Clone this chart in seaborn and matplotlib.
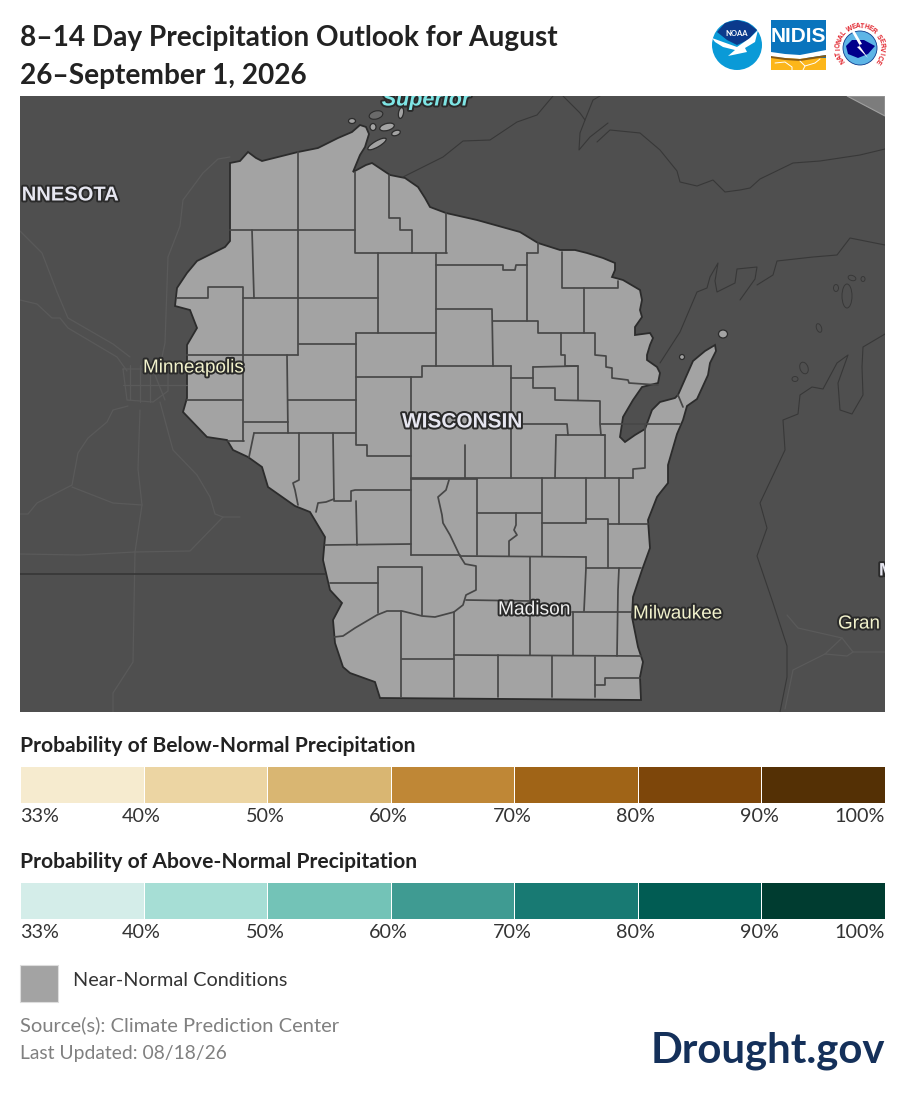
import numpy as np
import pandas as pd
import matplotlib
matplotlib.use("Agg")
import matplotlib.pyplot as plt
import matplotlib.patheffects as pe
from matplotlib.colors import ListedColormap
from matplotlib.patches import Circle, Ellipse, Polygon, Rectangle
import seaborn as sns

W, H = 905, 1104
sns.set_theme(style="white")
plt.rcParams["font.family"] = ["Lato", "DejaVu Sans"]

title_lines = ["8\u201314 Day Precipitation Outlook for August", "26\u2013September 1, 2026"]
bin_labels = ["33%", "40%", "50%", "60%", "70%", "80%", "90%", "100%"]
below_colors = ["#f6ebcf", "#ecd5a3", "#d9b672", "#bf8736", "#a06417", "#7d460a", "#543005"]
above_colors = ["#d4ede9", "#a6ded5", "#73c3b7", "#3f9b92", "#187a73", "#015c53", "#003c30"]

state_outline = [(230,163),(240,161),(248,152),(256,158),(262,161),(298,152),(318,148),(338,138),(352,132),(360,125),(366,127),(369,134),(365,147),(360,155),(353,172),(366,165),(372,163),(390,175),(405,178),(418,187),(425,198),(430,207),(446,213),(477,220),(520,232),(538,243),(560,250),(575,250),(587,253),(603,258),(615,263),(615,270),(612,277),(623,280),(640,290),(642,300),(640,310),(642,317),(635,327),(635,335),(650,333),(653,338),(650,345),(647,355),(647,360),(657,367),(660,373),(658,383),(642,387),(633,400),(623,417),(620,437),(625,442),(635,435),(645,429),(652,410),(660,402),(675,398),(678,395),(693,361),(705,351),(715,345),(716,351),(710,363),(708,375),(697,399),(687,406),(683,420),(677,434),(668,465),(668,483),(660,493),(657,497),(648,520),(650,548),(642,570),(633,597),(632,617),(638,647),(643,662),(640,677),(641,700),(380,698),(375,682),(350,673),(343,667),(335,643),(333,620),(342,603),(330,590),(323,560),(325,537),(310,512),(295,506),(268,487),(262,467),(248,457),(233,450),(227,440),(207,437),(183,412),(187,398),(187,345),(197,328),(190,310),(175,306),(177,288),(187,273),(197,261),(213,253),(225,247),(230,241)]

county_lines = [
 [(298,152),(298,355)], [(230,230),(355,230)], [(355,172),(355,253),(447,253)],
 [(389,175),(389,218),(400,218),(400,230),(412,230),(412,253)], [(446,213),(446,253)],
 [(252,230),(254,298)], [(177,298),(208,298),(208,287),(243,287),(243,441)], [(243,298),(378,298)],
 [(378,253),(378,333)], [(356,333),(436,333)], [(356,333),(356,445),(367,445),(367,456),(411,456)],
 [(299,344),(356,344)], [(187,355),(298,355)], [(287,355),(288,433)], [(187,400),(243,400)], [(288,400),(356,400)],
 [(436,253),(436,366),(422,366),(422,377),(356,377)], [(436,366),(511,366)], [(411,377),(411,555)],
 [(436,265),(503,265),(503,270),(515,270),(516,265),(527,265)], [(527,253),(538,253),(538,243)],
 [(527,253),(527,321)], [(436,309),(492,309),(493,366)], [(493,321),(538,321),(538,333),(561,333),(561,355),(565,355),(565,366),(578,366)],
 [(533,367),(578,366),(578,400)], [(533,367),(533,388),(555,388),(555,400),(600,401),(600,424),(601,435),(605,435),(605,478)],
 [(511,378),(533,378)], [(511,366),(511,478)], [(562,252),(562,288),(618,288),(618,281)], [(584,288),(584,333)],
 [(561,333),(595,333),(595,355),(606,356),(606,367),(612,368),(612,378),(628,380),(629,383),(658,385)],
 [(556,435),(605,435)], [(556,435),(555,478)], [(511,424),(567,424),(568,435)], [(601,424),(680,424)],
 [(645,424),(645,468),(633,469),(633,478)], [(411,478),(633,478)], [(465,445),(465,478)],
 [(678,395),(683,407)],
 [(244,422),(288,422)], [(228,441),(244,441)], [(254,433),(355,433)], [(254,433),(249,457)],
 [(299,433),(299,480),(293,483),(295,490),(298,505)], [(333,433),(334,501),(351,501),(351,491),(355,490),(411,490)],
 [(316,512),(318,503),(326,502),(334,499)], [(356,501),(357,545)], [(325,545),(411,544)],
 [(411,479),(477,479)], [(449,480),(446,490),(438,497),(442,515),(443,523),(450,535),(460,556),(465,564),(476,566),(476,590),(466,595),(463,605),(454,612),(435,617),(422,616),(402,611),(387,611),(377,615),(355,628),(343,636),(334,637)],
 [(330,583),(378,583)], [(378,567),(378,613)], [(378,567),(422,567),(422,615)], [(411,555),(460,555)],
 [(401,611),(401,697)], [(402,659),(454,659)], [(454,612),(454,697)],
 [(477,479),(477,555)], [(477,513),(541,513)], [(542,478),(542,556)], [(516,513),(516,525),(514,530),(517,535),(509,541),(509,556)],
 [(542,523),(586,523)], [(586,478),(586,523)], [(586,557),(586,568),(584,611)], [(586,519),(608,519),(608,568)], [(608,524),(648,524)], [(619,478),(619,524)],
 [(460,556),(586,557)], [(586,568),(641,568)], [(619,568),(618,590),(617,656)], [(530,557),(530,655)], [(466,600),(530,601)],
 [(572,612),(632,612)], [(573,612),(573,655)], [(454,655),(641,656)], [(498,655),(498,697)], [(552,656),(552,697)], [(595,657),(595,697)],
 [(595,685),(605,685),(605,678),(640,678)],
]

road_lines = [
 [(20,231),(42,253),(57,292),(68,318),(113,344),(130,357)],
 [(20,300),(37,304),(52,318),(60,318),(68,328),(117,357),(127,371)],
 [(230,157),(218,159),(203,173),(183,200),(180,226),(168,257),(165,343),(162,357),(143,371)],
 [(128,406),(113,410),(107,422),(88,438),(78,453),(72,485),(37,503),(28,514),(20,514)],
 [(72,487),(113,503),(142,505)],
 [(140,410),(138,469),(142,505),(135,552),(133,662),(113,693),(113,712)],
 [(20,554),(80,555),(135,552),(190,551),(223,517),(240,517)],
 [(160,402),(173,450),(197,475),(210,497),(215,514),(223,517)],
 [(123,369),(168,369),(168,391),(153,402),(127,400),(123,369)],
 [(130,365),(130,400)], [(140,365),(140,402)], [(150,369),(150,402)], [(123,385),(187,385)], [(155,375),(165,400)],
 [(787,615),(798,628),(842,638),(853,652),(885,652)],
 [(842,638),(825,654),(847,656),(853,652)],
 [(825,654),(793,670),(785,709)],
]

shore_lines = [
 [(403,177),(443,157),(463,141),(490,140),(517,122),(537,115),(553,96)],
 [(563,96),(580,113),(585,120),(580,133),(579,150),(590,137),(608,123)],
 [(585,120),(593,100),(600,96)],
 [(597,142),(610,130),(640,133),(660,150),(677,171),(680,182),(697,186),(713,180),(725,192),(740,190),(750,188),(760,179),(793,163),(820,161),(860,155),(885,149)],
 [(660,363),(680,332),(697,292),(707,288),(710,277),(718,263),(715,281),(717,292),(735,283),(737,269),(757,267),(755,279),(740,300)],
 [(757,285),(773,275),(777,261),(813,257),(837,255),(850,238),(885,245)],
 [(885,334),(863,347),(862,367),(863,395),(852,414),(840,410),(838,383),(848,355),(837,363),(823,389),(812,387),(800,395),(798,414),(783,420),(785,450),(760,503),(767,528),(757,556),(773,603),(787,646),(787,677),(780,712)],
]
state_border = [[(20,574),(325,574)]]

map_labels = [
 ("Superior", 426, 100, "center", 15.5, "bold", "italic", "#7fe6e6"),
 ("NNESOTA", 119, 195, "right", 14.5, "bold", "normal", "#e6e6f0"),
 ("Minneapolis", 143, 368, "left", 13.6, "normal", "normal", "#f2f2cc"),
 ("WISCONSIN", 402, 422, "left", 15, "bold", "normal", "#e6e6f0"),
 ("Madison", 498, 610, "left", 13.8, "normal", "normal", "#f0f0f0"),
 ("Milwaukee", 633, 614, "left", 13.6, "normal", "normal", "#f2f2cc"),
 ("Gran", 838, 624, "left", 13.6, "normal", "normal", "#f2f2cc"),
 ("M", 879, 571, "left", 13, "bold", "normal", "#e6e6f0"),
]


def frame(polylines):
    rows = []
    for i, line in enumerate(polylines):
        for order, (x, y) in enumerate(line):
            rows.append({"line": i, "order": order, "x": x, "y": y})
    return pd.DataFrame(rows)


def draw_lines(ax, polylines, color, lw):
    sns.lineplot(data=frame(polylines), x="x", y="y", units="line", estimator=None,
                 sort=False, color=color, lw=lw, ax=ax, legend=False, zorder=3)


def px_axes(left, top, right, bottom):
    return fig.add_axes([left / W, 1 - bottom / H, (right - left) / W, (bottom - top) / H])


fig = plt.figure(figsize=(W / 100, H / 100), dpi=100, facecolor="white")

# map -----------------------------------------------------------------
ax = px_axes(20, 96, 885, 712)
ax.set_facecolor("#4f4f4f")
draw_lines(ax, road_lines, "#5a5a5a", 0.9)
draw_lines(ax, shore_lines, "#383838", 0.8)
draw_lines(ax, state_border, "#363636", 1.2)
ax.add_patch(Polygon([(847, 96), (885, 116), (885, 96)], fc="#7c7c7c", ec="#a0a0a0", lw=0.8, zorder=2))
for (cx, cy, w, h, a) in [(847,296,10,24,0),(804,368,8,12,-20),(795,379,6,5,0),(819,328,5,9,-20),(852,278,8,5,20),(863,279,4,5,0),(836,288,5,7,0)]:
    ax.add_patch(Ellipse((cx, cy), w, h, angle=a, fc="none", ec="#383838", lw=0.7, zorder=3))
ax.add_patch(Ellipse((376, 115), 14, 8, angle=-15, fc="#6a6a6a", ec="#2c2c2c", lw=0.8, zorder=3))
ax.add_patch(Polygon(state_outline, closed=True, fc="#a3a3a3", ec="#2c2c2c", lw=1.3, zorder=2.5))
for (cx, cy, w, h, a) in [(387,127,15,7,-15),(377,144,21,6,-30),(373,127,6,7,0),(401,113,5,11,10),(396,133,9,5,-20),(352,121,7,5,0),(723,334,9,8,0),(682,357,5,5,0)]:
    ax.add_patch(Ellipse((cx, cy), w, h, angle=a, fc="#a3a3a3", ec="#2c2c2c", lw=0.9, zorder=4))
draw_lines(ax, county_lines, "#474747", 1.25)
for (txt, x, y, ha, size, weight, style, col) in map_labels:
    t = ax.text(x, y, txt, ha=ha, va="center", fontsize=size, fontweight=weight, fontstyle=style,
                color=col, family="Liberation Sans", clip_on=True, zorder=6)
    t.set_path_effects([pe.withStroke(linewidth=2.8, foreground="#2a2a2a")])
ax.set_xlim(20, 885)
ax.set_ylim(712, 96)
ax.set_xlabel("")
ax.set_ylabel("")
ax.set_xticks([])
ax.set_yticks([])
sns.despine(ax=ax, left=True, bottom=True)


# legends --------------------------------------------------------------
def scale_bar(colors, top):
    a = px_axes(20, top, 885, top + 37)
    vals = np.arange(len(colors))[None, :]
    sns.heatmap(vals, cmap=ListedColormap(colors), vmin=0, vmax=len(colors) - 1, cbar=False,
                linewidths=0.5, linecolor="white", ax=a, square=False)
    a.set_yticks([])
    ticks = np.arange(len(bin_labels), dtype=float)
    ticks[1:-1] -= 0.016
    a.set_xticks(ticks)
    a.set_xticklabels(bin_labels, rotation=0, fontsize=14.2, color="#333333")
    a.set_xlim(0, len(colors))
    a.tick_params(axis="x", length=0, pad=3.5)
    labels = a.get_xticklabels()
    labels[0].set_ha("left")
    labels[-1].set_ha("right")


scale_bar(below_colors, 766)
scale_bar(above_colors, 882)

# page overlay ----------------------------------------------------------
pg = fig.add_axes([0, 0, 1, 1], facecolor="none")
pg.set_xlim(0, W)
pg.set_ylim(H, 0)
pg.axis("off")
pg.text(20, 38, title_lines[0], fontsize=20.2, fontweight="bold", color="#222222", va="center")
pg.text(20, 76, title_lines[1], fontsize=20.2, fontweight="bold", color="#222222", va="center")
pg.text(20, 746, "Probability of Below-Normal Precipitation", fontsize=15.1, fontweight="bold", color="#222222", va="center")
pg.text(20, 862, "Probability of Above-Normal Precipitation", fontsize=15.1, fontweight="bold", color="#222222", va="center")
pg.add_patch(Rectangle((20, 965), 38, 37, fc="#a3a3a3", ec="#dddddd", lw=0.8))
pg.text(73, 981, "Near-Normal Conditions", fontsize=14.3, color="#333333", va="center")
pg.text(20, 1025, "Source(s): Climate Prediction Center", fontsize=14.5, color="#808080", va="center")
pg.text(20, 1053, "Last Updated: 08/18/26", fontsize=13.9, color="#808080", va="center")
pg.text(885, 1051, "Drought.gov", fontsize=30.2, fontweight="bold", color="#14305a", va="center", ha="right")

# NOAA
pg.add_patch(Circle((737, 45), 25, fc="#0a9ad7", ec="none"))
pg.add_patch(Polygon([(717,32),(725,23),(737,20),(748,23),(757,30),(748,40),(737,45),(727,40)], fc="#0b3a8c", ec="none"))
pg.add_patch(Polygon([(712,38),(723,42),(737,47),(750,38),(758,30),(755,42),(745,48),(747,52),(728,56),(735,50),(723,47),(715,42)], fc="white", ec="none"))
pg.text(737, 33, "NOAA", fontsize=5.5, fontweight="bold", color="white", ha="center", va="center")
# NIDIS
pg.add_patch(Rectangle((771, 20), 55, 50, fc="#0a74bd", ec="none"))
pg.text(798.5, 37, "NIDIS", fontsize=15, fontweight="bold", color="white", ha="center", va="center", family="Liberation Sans")
pg.add_patch(Rectangle((771, 58), 55, 12, fc="#fcb61a", ec="none"))
pg.add_patch(Polygon([(771,52),(785,54),(800,55),(826,50),(826,55),(800,59),(785,58),(771,57)], fc="white", ec="none"))
pg.add_patch(Polygon([(771,56),(785,58),(800,59),(826,55),(826,57),(800,61),(785,60),(771,58)], fc="#8a5a12", ec="none"))
for seg in [[(775,63),(785,62),(792,67),(792,70)],[(800,61),(805,66),(815,63),(820,59)],[(805,66),(803,70)]]:
    pg.plot(*zip(*seg), color="white", lw=0.7)
# NWS
pg.add_patch(Circle((860, 48), 17, fc="#5db5e6", ec="#0b3a8c", lw=0.6))
pg.add_patch(Polygon([(846,46),(852,40),(864,40),(875,46),(868,54),(858,58),(848,54)], fc="#00008b", ec="none"))
pg.add_patch(Polygon([(854,30),(862,44),(859,45),(868,58),(857,47),(860,46),(852,32)], fc="white", ec="none"))
ring = "NATIONAL WEATHER SERVICE"
for i, ch in enumerate(ring):
    ang = np.deg2rad(215 - i * 250 / (len(ring) - 1))
    pg.text(860 + 21.5 * np.cos(ang), 48 - 21.5 * np.sin(ang), ch, fontsize=4.8, fontweight="bold", color="#e01b24",
            ha="center", va="center", rotation=np.rad2deg(ang) - 90, family="Liberation Sans")

fig.savefig("out.png", dpi=100)
